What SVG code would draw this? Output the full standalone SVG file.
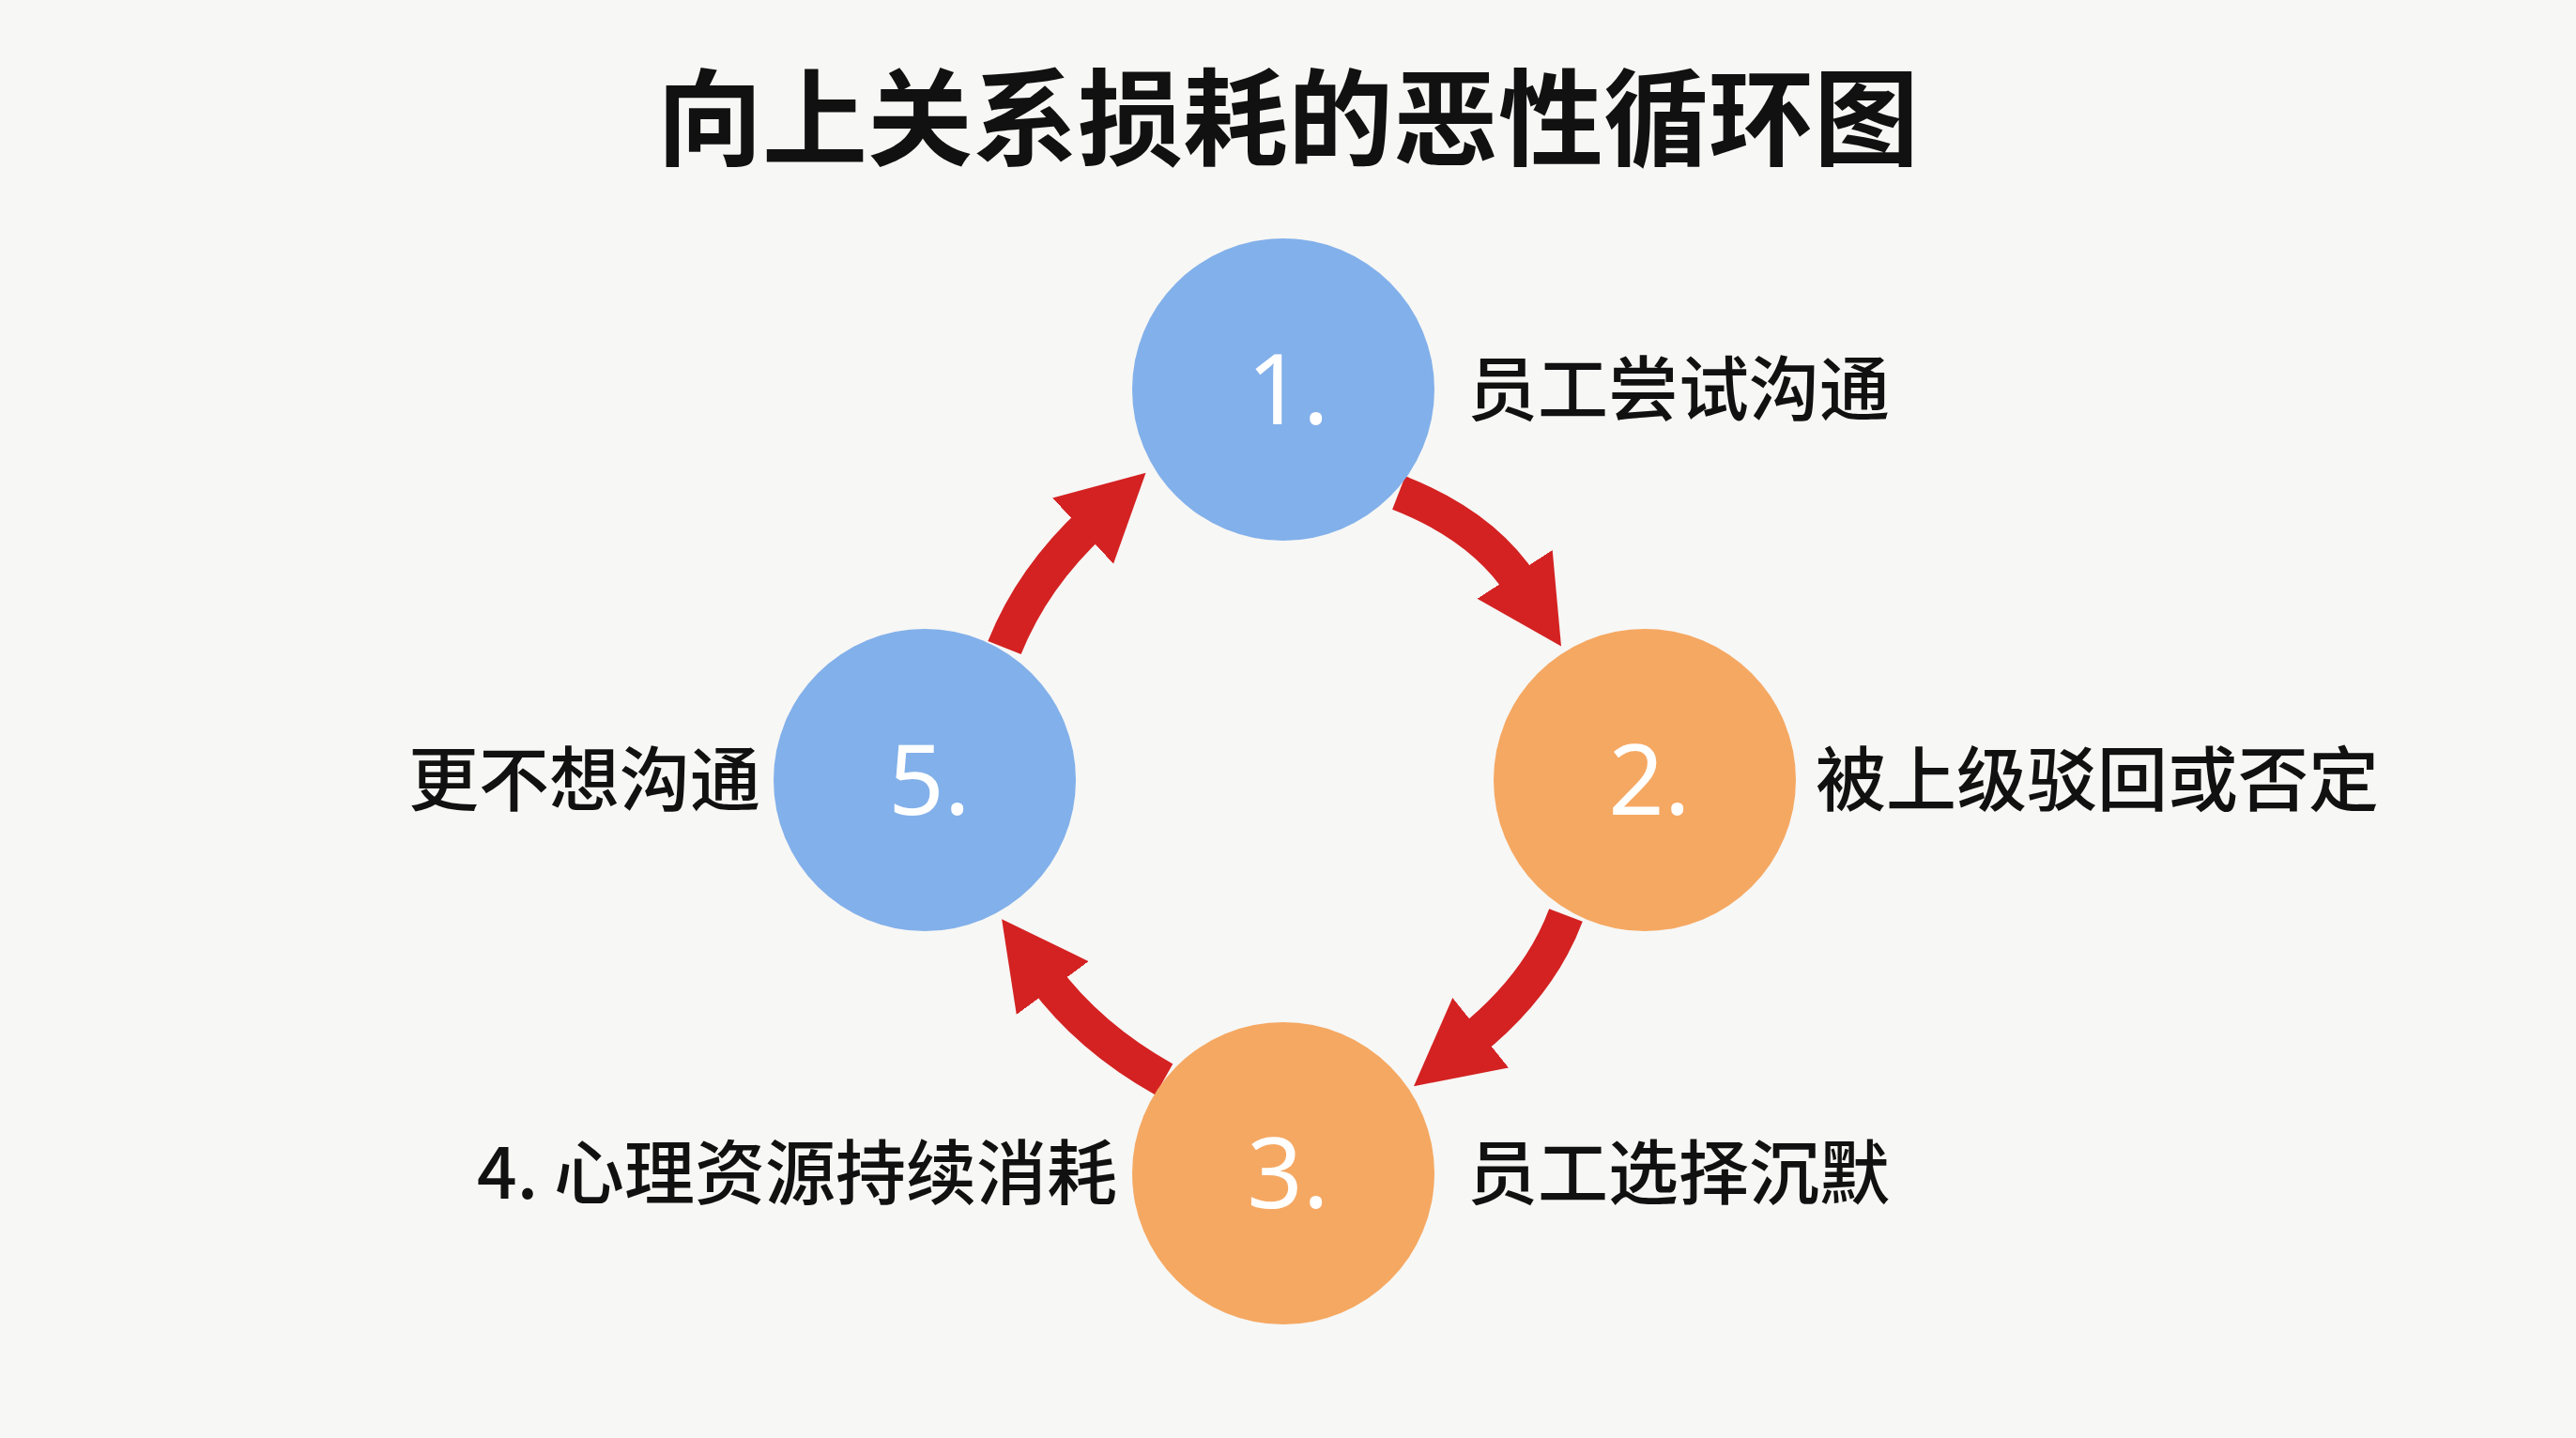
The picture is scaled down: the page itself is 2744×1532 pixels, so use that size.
<svg xmlns="http://www.w3.org/2000/svg" width="2744" height="1532" viewBox="0 0 2744 1532">
<style>
.t{font-family:"Noto Sans CJK SC","Noto Sans",sans-serif;fill:#111}
.n{font-family:"Noto Sans","Liberation Sans",sans-serif;fill:#fff;font-size:104px;text-anchor:middle}
.lb{font-size:75px;font-weight:500}
.a{fill:none;stroke:#d42222;stroke-width:38;marker-end:url(#ah)}
</style>
<defs>
<marker id="ah" markerUnits="userSpaceOnUse" markerWidth="100" markerHeight="100" viewBox="0 0 90 90" refX="14" refY="45" orient="auto">
<path d="M0,2 L82,45 L0,88 z" fill="#d42222"/>
</marker>
</defs>
<rect width="2744" height="1532" fill="#f7f7f5"/>
<text class="t" x="1372" y="168" font-size="112" font-weight="700" text-anchor="middle">向上关系损耗的恶性循环图</text>
<g id="connectors">
<path class="a" d="M1490,525 Q1580,560 1622,625"/>
<path class="a" d="M1668,975 Q1640,1050 1565,1110"/>
<path class="a" d="M1240,1150 Q1160,1105 1112,1040"/>
<path class="a" d="M1070,690 Q1100,615 1165,555"/>
</g>
<g id="n1"><circle cx="1367" cy="415" r="161" fill="#82b0ea"/><text class="n" x="1372" y="452">1.</text>
<text class="t lb" x="1563" y="442">员工尝试沟通</text></g>
<g id="n2"><circle cx="1752" cy="831" r="161" fill="#f5a862"/><text class="n" x="1757" y="868">2.</text>
<text class="t lb" x="1934" y="858">被上级驳回或否定</text></g>
<g id="n3"><circle cx="1367" cy="1250" r="161" fill="#f5a862"/><text class="n" x="1372" y="1287">3.</text>
<text class="t lb" x="1563" y="1277">员工选择沉默</text></g>
<g id="n4"><text class="t lb" x="1190" y="1277" text-anchor="end">4. 心理资源持续消耗</text></g>
<g id="n5"><circle cx="985" cy="831" r="161" fill="#82b0ea"/><text class="n" x="990" y="868">5.</text>
<text class="t lb" x="810" y="858" text-anchor="end">更不想沟通</text></g>
</svg>
